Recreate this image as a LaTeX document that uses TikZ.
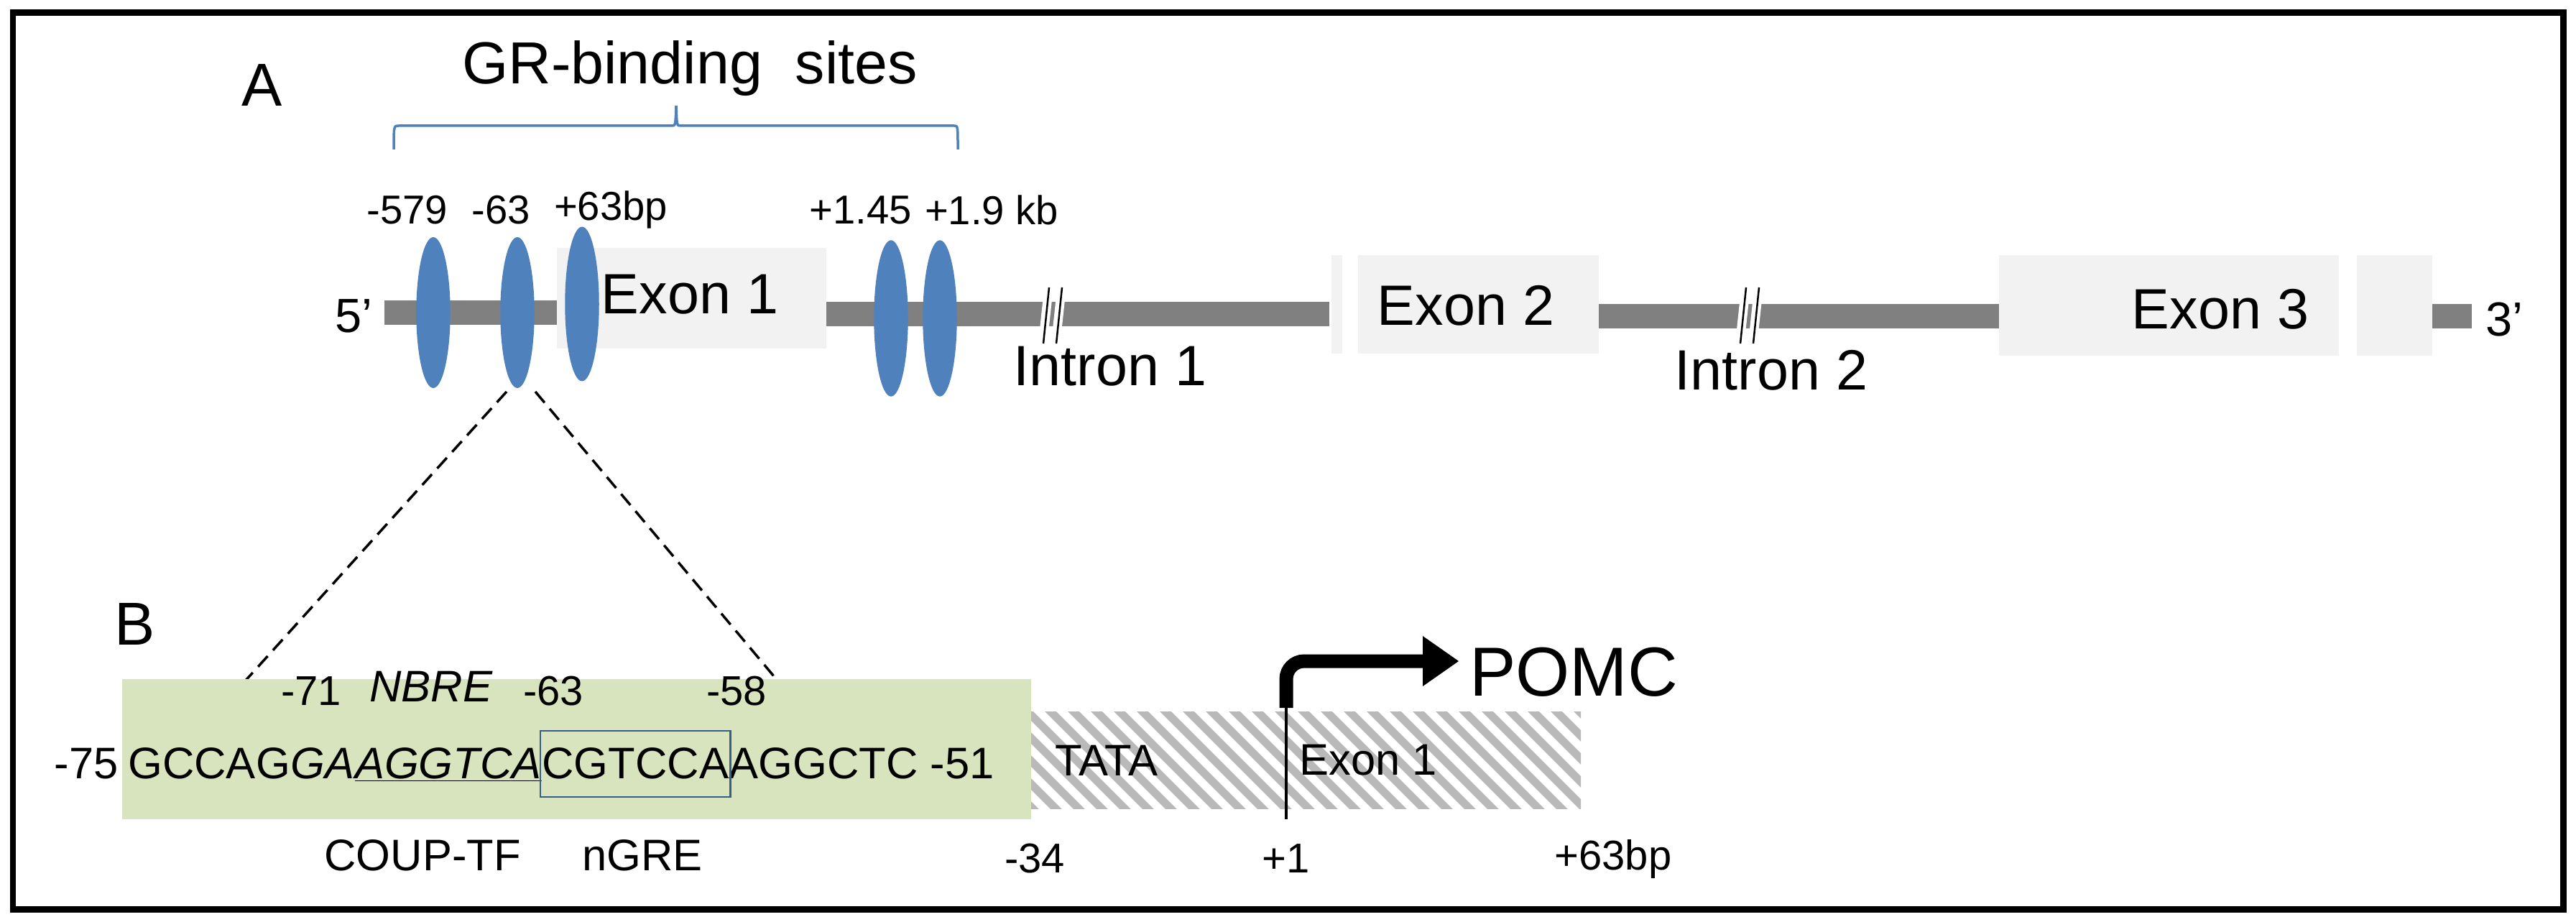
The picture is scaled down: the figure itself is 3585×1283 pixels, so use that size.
\documentclass[tikz,border=0pt]{standalone}
\usepackage{fontspec}
\setmainfont{Liberation Sans}
\usetikzlibrary{shapes.geometric,calc,decorations.pathreplacing,arrows.meta}
\newcommand\FS[1]{\fontsize{#1}{#1}\selectfont}
\begin{document}
\begin{tikzpicture}[x=0.02cm,y=-0.02cm,
  lbl/.style={inner sep=0,font=\FS{32pt}},
  big/.style={inner sep=0,font=\FS{45pt}},
  site/.style={ellipse,fill=gsite,minimum width=0.95cm,minimum height=4.2cm,inner sep=0},
  exon/.style={fill=gray!10},
  dna/.style={draw=gline,line width=0.7cm},
  zl/.style={line width=0.07cm,dash pattern=on 0.4cm off 0.22cm},
  seq/.style={inner sep=0,font=\FS{35pt},anchor=base west}]
\definecolor{gsite}{HTML}{4F81BD}
\definecolor{gline}{HTML}{808080}
\definecolor{lgreen}{HTML}{D7E4BD}
\definecolor{bbox}{HTML}{385D8A}
\useasboundingbox (0,0) rectangle (3585,1283);
\draw[line width=0.18cm] (18,18) rectangle (3567,1265);
\node[font=\FS{48pt},inner sep=0] (A) at (365,118) {A};
\node[font=\FS{48pt},inner sep=0] (B) at (188,868) {B};
\node[font=\FS{47pt},inner sep=0] (gr) at (960,95) {GR-binding\ \ sites};
\draw[gsite,line width=0.07cm] (548,208) .. controls (548,175) .. (555,175) -- (935,175) .. controls (940,175) .. (941,147) .. controls (942,175) .. (947,175) -- (1328,175) .. controls (1333,175) .. (1333,208);
% DNA
\draw[dna] (535,435) -- (780,435);
\draw[dna] (1150,437) -- (1850,437);
\draw[dna] (2225,440) -- (2785,440);
\draw[dna] (3385,440) -- (3440,440);
\fill[exon] (775,345) rectangle (1150,485);
\fill[exon] (1853,355) rectangle (1868,492);
\fill[exon] (1890,355) rectangle (2225,492);
\fill[exon] (2782,355) rectangle (3255,495);
\fill[exon] (3280,355) rectangle (3385,495);
\node[big] (ex1) at (960,410) {Exon 1};
\node[big] (ex2) at (2040,425) {Exon 2};
\node[big] (ex3) at (3090,430) {Exon 3};
\node[big] (in1) at (1545,510) {Intron 1};
\node[big] (in2) at (2465,515) {Intron 2};
\foreach \x in {1452,1470}{\draw[white,line width=0.25cm] (\x,470)--(\x+7,405);}
\draw[line width=0.05cm] (1452,478)--(1460,400) (1470,478)--(1478,400);
\foreach \x in {2422,2440}{\draw[white,line width=0.25cm] (\x,470)--(\x+7,405);}
\draw[line width=0.05cm] (2422,478)--(2430,400) (2440,478)--(2448,400);
\node[big,font=\FS{38pt}] (p5) at (492,440) {5’};
\node[big,font=\FS{38pt}] (p3) at (3485,445) {3’};
\node[site] (e1) at (603,435) {};
\node[site] (e2) at (720,435) {};
\node[site,minimum height=4.3cm] (e3) at (810,423) {};
\node[site,minimum height=4.35cm] (e4) at (1240,443) {};
\node[site,minimum height=4.35cm] (e5) at (1308,443) {};
\node[lbl] (l1) at (567,292) {-579};
\node[lbl] (l2) at (697,292) {-63};
\node[lbl] (l3) at (850,292) {+63bp};
\node[lbl] (l4) at (1198,292) {+1.45};
\node[lbl] (l5) at (1380,292) {+1.9 kb};
% zoom lines
\coordinate (z1) at (330,960);
\coordinate (z2) at (1108,978);
\draw[zl] (705,545) -- (z1);
\draw[zl] (745,545) -- (z2);
% B sequence
\fill[lgreen] (170,945) rectangle (1435,1140);
\node[seq,anchor=base east] (s0) at (165,1083) {-75};
\node[seq] (s1) at (178,1083) {GCCAG};
\node[seq] (s2) at (s1.base east) {\itshape GA};
\node[seq] (s3) at (s2.base east) {\itshape\underline{AGGTCA}};
\node[seq] (s4) at (s3.base east) {CGTCCA};
\node[seq] (s5) at (s4.base east) {AGGCTC -51};
\coordinate (bt) at (0,1017);
\coordinate (bb) at (0,1109);
\draw[bbox,line width=0.05cm] ($(s4.west|-bt)+(-2,0)$) rectangle ($(s4.east|-bb)+(2,0)$);
\node[lbl,font=\FS{33pt}] (m71) at (433,962) {-71};
\node[lbl,font=\FS{35pt}] (nbre) at (600,955) {\itshape NBRE};
\node[lbl,font=\FS{33pt}] (m63) at (770,962) {-63};
\node[lbl,font=\FS{33pt}] (m58) at (1025,962) {-58};
\node[lbl,font=\FS{35pt}] (coup) at (588,1190) {COUP-TF};
\node[lbl,font=\FS{35pt}] (ngre) at (894,1190) {nGRE};
% hatched
\begin{scope}
\clip (1435,990) rectangle (2200,1125);
\foreach \i in {0,...,30}{\draw[gray!55,line width=0.22cm] (1250+\i*32,970) -- ++(170,170);}
\end{scope}
\node[lbl,font=\FS{35pt}] (tata) at (1540,1058) {TATA};
\node[lbl,font=\FS{35pt},anchor=west] (ex1b) at (1808,1058) {Exon 1};
\coordinate (tss) at (1790,985);
\draw[line width=0.07cm] (1790,985) -- (1790,1140);
\draw[line width=0.38cm,rounded corners=0.5cm] (tss) -- (1790,920) -- (1985,920);
\fill (1980,885) -- (2030,920) -- (1980,955) -- cycle;
\node[inner sep=0,font=\FS{55pt}] (pomc) at (2190,935) {POMC};
\node[lbl,font=\FS{33pt}] (m34) at (1440,1195) {-34};
\node[lbl,font=\FS{33pt}] (p1) at (1790,1195) {+1};
\node[lbl,font=\FS{33pt}] (p63) at (2245,1195) {+63bp};
\end{tikzpicture}
\end{document}
